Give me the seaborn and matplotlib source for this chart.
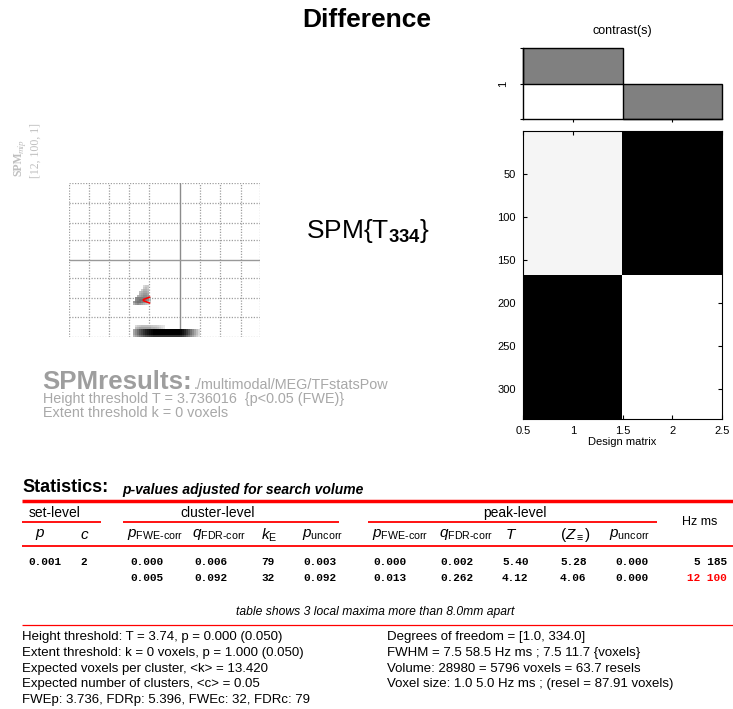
import numpy as np
import matplotlib
matplotlib.use("Agg")
import matplotlib.pyplot as plt
import seaborn as sns

sns.set_style("ticks")
plt.rcParams["font.family"] = ["Liberation Sans", "DejaVu Sans"]
plt.rcParams["text.color"] = "black"
plt.rcParams["axes.labelcolor"] = "black"
plt.rcParams["xtick.color"] = "black"
plt.rcParams["ytick.color"] = "black"
plt.rcParams["mathtext.fontset"] = "custom"
plt.rcParams["mathtext.rm"] = "Liberation Sans"
plt.rcParams["mathtext.it"] = "Liberation Sans:italic"
plt.rcParams["mathtext.bf"] = "Liberation Sans:bold"

# ---------------- data ----------------
contrast_weights = [1, -1]
contrast_cols = [1, 2]

dm_block_rows = [167, 167]
dm_blocks = [[0.96, 0.0],
             [0.0, 1.0]]

# glass-brain (MIP) blobs, 2x2 px voxels: row, first column, intensities
mip_shape = (77, 96)
dark_profile = [0.35, 0.45, 0.55, 0.65, 0.72, 0.8, 0.86, 0.9, 0.94, 0.97,
                1, 1, 1, 1, 1, 1, 1, 1, 1, 1, 1, 1, 1, 1,
                0.97, 0.92, 0.85, 0.75, 0.65, 0.55, 0.45, 0.35, 0.25, 0.15]
blob_rows = [51, 52, 53, 54, 55, 56, 57, 58, 59, 60,
             71, 72, 73, 74, 75, 76]
blob_start = [37, 37, 36, 35, 35, 34, 33, 33, 32, 32,
              33, 33, 32, 32, 32, 32]
blob_vals = [
    [0.15, 0.2, 0.2],
    [0.2, 0.25, 0.2],
    [0.2, 0.3, 0.3, 0.25],
    [0.25, 0.3, 0.35, 0.35, 0.3],
    [0.3, 0.35, 0.4, 0.4, 0.35],
    [0.3, 0.35, 0.4, 0.45, 0.45, 0.4],
    [0.45, 0.5, 0.5, 0.5, 0.5, 0.5, 0.45, 0.3],
    [0.45, 0.5, 0.55, 0.55, 0.5, 0.5, 0.45, 0.3],
    [0.4, 0.5, 0.55, 0.55, 0.5, 0.45, 0.4, 0.3, 0.2],
    [0.3, 0.4, 0.45, 0.4, 0.35, 0.3, 0.25, 0.2],
    [0.15, 0.2, 0.22, 0.25, 0.25, 0.25, 0.25, 0.25, 0.22, 0.2, 0.2, 0.18, 0.15, 0.12, 0.1],
    [0.25, 0.3, 0.35, 0.35, 0.35, 0.35, 0.35, 0.35, 0.3, 0.3, 0.28, 0.25, 0.2, 0.15, 0.1],
    dark_profile,
    dark_profile,
    dark_profile,
    [v * 0.8 for v in dark_profile],
]
cursor_col, cursor_row = 36.5, 59.3

# results table
set_p = ["0.001", ""]
set_c = ["2", ""]
clus_pfwe = ["0.000", "0.005"]
clus_qfdr = ["0.006", "0.092"]
clus_k = ["79", "32"]
clus_punc = ["0.003", "0.092"]
peak_pfwe = ["0.000", "0.013"]
peak_qfdr = ["0.002", "0.262"]
peak_T = ["5.40", "4.12"]
peak_Z = ["5.28", "4.06"]
peak_punc = ["0.000", "0.000"]
peak_hz = [5, 12]
peak_ms = [185, 100]

footer_left = ["Height threshold: T = 3.74, p = 0.000 (0.050)",
               "Extent threshold: k = 0 voxels, p = 1.000 (0.050)",
               "Expected voxels per cluster, <k> = 13.420",
               "Expected number of clusters, <c> = 0.05",
               "FWEp: 3.736, FDRp: 5.396, FWEc: 32, FDRc: 79"]
footer_right = ["Degrees of freedom = [1.0, 334.0]",
                "FWHM = 7.5 58.5 Hz ms ; 7.5 11.7 {voxels}",
                "Volume: 28980 = 5796 voxels = 63.7 resels",
                "Voxel size: 1.0 5.0 Hz ms ; (resel = 87.91 voxels)"]

# ---------------- figure ----------------
W, H = 733, 709
fig = plt.figure(figsize=(W / 100, H / 100), dpi=100)


def box(x0, y0, x1, y1):
    return [x0 / W, 1 - y1 / H, (x1 - x0) / W, (y1 - y0) / H]


# contrast bars
ax_c = fig.add_axes(box(523, 48, 722, 119))
sns.barplot(x=contrast_cols, y=contrast_weights, width=1, color="0.5",
            edgecolor="black", linewidth=1, saturation=1, ax=ax_c)
for p in ax_c.patches:
    p.set_clip_on(False)
ax_c.set_xlim(-0.5, 1.5)
ax_c.set_ylim(-1, 1)
ax_c.set_yticks([-1, 0, 1])
ax_c.set_yticklabels(["", "1", ""], rotation=90, va="center", fontsize=8)
ax_c.set_xticks([0, 1])
ax_c.set_xticklabels([])
ax_c.tick_params(length=2.5, width=0.8, pad=8)
ax_c.set_xlabel("")
ax_c.set_ylabel("")
for s in ["top", "right"]:
    ax_c.spines[s].set_visible(False)
for s in ["left", "bottom"]:
    ax_c.spines[s].set_color("black")
    ax_c.spines[s].set_linewidth(1)
ax_c.set_title("contrast(s)", fontsize=9, pad=10)

# design matrix
dm = np.vstack([np.tile(row, (n, 1)) for row, n in zip(dm_blocks, dm_block_rows)])
ax_d = fig.add_axes(box(523, 131, 722, 419))
ax_d.imshow(dm, cmap="gray", vmin=0, vmax=1, aspect="auto",
            extent=(0.5, 2.5, dm.shape[0] + 0.5, 0.5), interpolation="nearest")
ax_d.set_xticks([0.5, 1, 1.5, 2, 2.5])
ax_d.set_xticklabels(["0.5", "1", "1.5", "2", "2.5"])
ax_d.set_yticks([50, 100, 150, 200, 250, 300])
ax_d.tick_params(direction="in", length=3, width=0.8, top=True, right=True,
                 labelsize=8, pad=5)
ax_d.set_xlabel("Design matrix", fontsize=8, labelpad=1)
for s in ax_d.spines.values():
    s.set_color("black")
    s.set_linewidth(0.8)

# maximum intensity projection
mip = np.zeros(mip_shape)
for r, c0, vals in zip(blob_rows, blob_start, blob_vals):
    mip[r, c0:c0 + len(vals)] = vals
ax_m = fig.add_axes(box(69, 183, 260, 337))
sns.heatmap(mip, mask=mip == 0, cmap="gray_r", vmin=0, vmax=1, cbar=False,
            xticklabels=False, yticklabels=False, ax=ax_m)
vgrid = [0.2, 10.2, 20.2, 30.3, 40.3, 65.9, 75.8, 86.3, 95.8]
hgrid = [0.2, 10, 20, 28.5, 47.5, 57.5, 67.2, 76.8]
for c in vgrid:
    ax_m.axvline(c, color="0.62", lw=0.9, ls=(0, (1, 1.2)), zorder=0.5)
for r in hgrid:
    ax_m.axhline(r, color="0.62", lw=0.9, ls=(0, (1, 1.2)), zorder=0.5)
ax_m.axvline(55.6, color="0.55", lw=1, zorder=0.5)
ax_m.axhline(38.3, color="0.6", lw=1, zorder=0.5)
ax_m.text(cursor_col, cursor_row, "<", color="red", fontsize=11,
          fontweight="bold", ha="left", va="center")
for s in ax_m.spines.values():
    s.set_visible(False)

# text overlay in pixel coordinates
ax_t = fig.add_axes([0, 0, 1, 1], facecolor="none", zorder=5)
ax_t.set_xlim(0, W)
ax_t.set_ylim(H, 0)
ax_t.axis("off")

ax_t.text(367, 20, "Difference", fontsize=19, fontweight="bold",
          ha="center", va="center")
ax_t.text(306, 231, r"SPM{T$_{\mathbf{334}}$}", fontsize=19, ha="left", va="center")

grey_lt = "0.75"
ax_t.text(21, 176, "SPM", family="Liberation Serif", fontweight="bold",
          fontsize=8.5, color=grey_lt, rotation=90, rotation_mode="anchor",
          ha="left", va="baseline")
ax_t.text(24, 153, "mip", family="Liberation Serif", style="italic",
          fontsize=6.5, color=grey_lt, rotation=90, rotation_mode="anchor",
          ha="left", va="baseline")
ax_t.text(39, 178, "[12, 100, 1]", family="Liberation Serif",
          fontsize=8.5, color=grey_lt, rotation=90, rotation_mode="anchor",
          ha="left", va="baseline")

ax_t.text(42, 389, "SPMresults:", fontsize=18.6, fontweight="bold", color="0.62",
          va="baseline")
ax_t.text(194, 389, "./multimodal/MEG/TFstatsPow", fontsize=10.4, color="0.66",
          va="baseline")
ax_t.text(43, 399, "Height threshold T = 3.736016  {p<0.05 (FWE)}", fontsize=10.4,
          color="0.66", va="center")
ax_t.text(43, 413, "Extent threshold k = 0 voxels", fontsize=10.4,
          color="0.66", va="center")

# statistics table
ax_t.text(22, 488, "Statistics:", fontsize=13, fontweight="bold", va="center")
ax_t.text(122, 490, "p-values adjusted for search volume", fontsize=10,
          fontweight="bold", style="italic", va="center")
ax_t.hlines(501, 22, W, color="red", lw=2.5)
ax_t.hlines([522, 522, 522], [22, 123, 368], [101, 339, 657], color="red", lw=1.3)
ax_t.hlines(546, 22, W, color="red", lw=1.3)
ax_t.hlines(625, 22, W, color="red", lw=0.9)

ax_t.text(55, 513, "set-level", fontsize=10, ha="center", va="center")
ax_t.text(218, 513, "cluster-level", fontsize=10, ha="center", va="center")
ax_t.text(515, 513, "peak-level", fontsize=10, ha="center", va="center")
ax_t.text(700, 522, "Hz ms", fontsize=9, ha="center", va="center")

sub_heads = [r"$p$", r"$c$", r"$p_{\text{FWE-corr}}$", r"$q_{\text{FDR-corr}}$",
             r"$k_{\text{E}}$", r"$p_{\text{uncorr}}$", r"$p_{\text{FWE-corr}}$",
             r"$q_{\text{FDR-corr}}$", r"$T$", r"$(Z_{\equiv})$", r"$p_{\text{uncorr}}$"]
head_x = [35, 80, 127, 192, 261, 302, 372, 439, 505, 560, 609]
for hx, h in zip(head_x, sub_heads):
    ax_t.text(hx, 535, h, fontsize=11, ha="left", va="center")

cols = [set_p, set_c, clus_pfwe, clus_qfdr, clus_k, clus_punc,
        peak_pfwe, peak_qfdr, peak_T, peak_Z, peak_punc]
col_x = [28, 80, 130, 194, 261, 303, 373, 440, 502, 560, 615]
row_y = [562, 578]
for cx, col in zip(col_x, cols):
    for ry, v in zip(row_y, col):
        ax_t.text(cx, ry, v, family="Liberation Mono", fontweight="bold",
                  fontsize=8, ha="left", va="center")
for i, (hz, ms) in enumerate(zip(peak_hz, peak_ms)):
    ax_t.text(727, row_y[i], f"{hz} {ms}", family="Liberation Mono",
              fontweight="bold", fontsize=8, ha="right", va="center",
              color="red" if i == 1 else "black")

ax_t.text(375, 612, "table shows 3 local maxima more than 8.0mm apart",
          fontsize=8.7, style="italic", ha="center", va="center")
for i, line in enumerate(footer_left):
    ax_t.text(22, 637 + i * 15.8, line, fontsize=9.5, va="center")
for i, line in enumerate(footer_right):
    ax_t.text(387, 637 + i * 15.8, line, fontsize=9.5, va="center")

fig.savefig("out.png", dpi=100)
